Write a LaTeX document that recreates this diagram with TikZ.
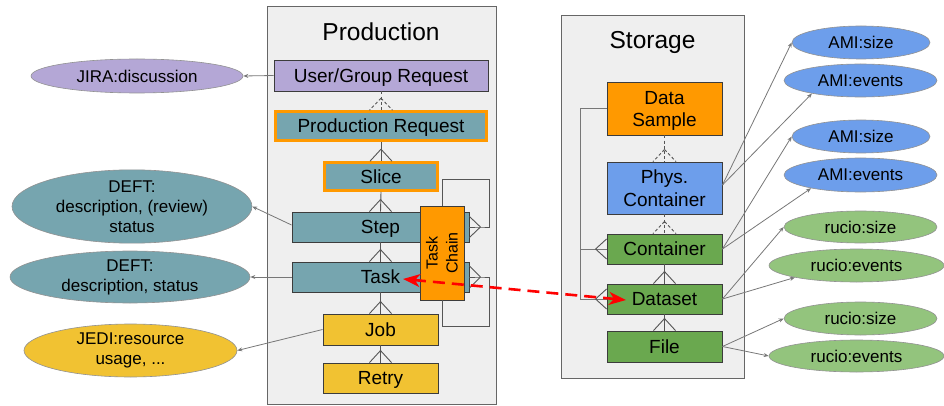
\documentclass[tikz,border=0pt]{standalone}
\usepackage{fontspec}
\setmainfont{Liberation Sans}
\usetikzlibrary{arrows.meta,calc,shapes.geometric}

\definecolor{panelfill}{HTML}{EFEFEF}
\definecolor{panelline}{HTML}{666666}
\definecolor{boxline}{HTML}{3C3C3C}
\definecolor{lilac}{HTML}{B4A7D6}
\definecolor{teal}{HTML}{76A5AF}
\definecolor{amber}{HTML}{FF9900}
\definecolor{gold}{HTML}{F1C232}
\definecolor{sky}{HTML}{6D9EEB}
\definecolor{leaf}{HTML}{6AA84F}
\definecolor{mint}{HTML}{93C47D}
\definecolor{wire}{HTML}{555555}
\definecolor{pointer}{HTML}{777777}
\definecolor{hot}{HTML}{FF0000}

% crow's foot: #2 = anchor on the box, #3 = apex offset, #4 = half spread
\newcommand{\crowfoot}[4][]{%
  \draw[link,#1] ($#2+#3$) -- ($#2+#4$) ($#2+#3$) -- ($#2-#4$);}

\begin{document}
\begin{tikzpicture}[x=1pt,y=-1pt,
  panel/.style={draw=panelline,fill=panelfill,line width=1pt,inner sep=0pt},
  title/.style={font=\fontsize{24.5}{28}\selectfont,anchor=base},
  entity/.style={draw=boxline,line width=0.9pt,inner sep=0pt,align=center,
    font=\fontsize{19}{22.5}\selectfont,text height=13.6pt,text depth=0pt},
  twolines/.style={text height=36.1pt},
  marked/.style={draw=amber,line width=2.6pt},
  attr/.style={ellipse,draw=pointer!80,line width=0.6pt,inner sep=0pt,align=center,
    font=\fontsize{17}{20}\selectfont},
  link/.style={draw=wire,line width=0.9pt},
  weak/.style={dash pattern=on 3pt off 2.2pt},
  refer/.style={draw=pointer,line width=0.8pt,-{Stealth[length=5pt,width=4pt]}},
  chainlink/.style={draw=hot,line width=2.6pt,dash pattern=on 12pt off 7pt,
    {Stealth[length=17pt,width=13pt,inset=5pt]}-{Stealth[length=17pt,width=13pt,inset=5pt]}}
]
\useasboundingbox (0,0) rectangle (944,406);

% ---------- panels ----------
\node[panel,minimum width=229pt,minimum height=397pt] (prodpanel) at (381.5,205.5) {};
\node[title] (prodtitle) at (381,41) {Production};
\node[panel,minimum width=183pt,minimum height=362pt] (storpanel) at (652.5,197) {};
\node[title] (stortitle) at (652.5,49) {Storage};

% ---------- production entities ----------
\node[entity,fill=lilac,minimum width=214pt,minimum height=31pt] (ugr) at (381,75.5) {User/Group Request};
\node[entity,marked,fill=teal,minimum width=211pt,minimum height=29pt] (preq) at (381,126) {Production Request};
\node[entity,marked,fill=teal,minimum width=113pt,minimum height=28pt] (slice) at (381,176.5) {Slice};
\node[entity,fill=teal,minimum width=177pt,minimum height=30pt] (step) at (380.5,227) {Step};
\node[entity,fill=teal,minimum width=177pt,minimum height=30pt] (task) at (380.5,277) {Task};
\node[entity,fill=gold,minimum width=115pt,minimum height=31pt] (job) at (380.5,329.5) {Job};
\node[entity,fill=gold,minimum width=115pt,minimum height=30pt] (retry) at (380.5,378) {Retry};

% hierarchy inside production
\draw[link,weak] (ugr.south) -- (preq.north);
\crowfoot[weak]{(preq.north)}{(0,-12)}{(11.5,0)}
\draw[link] (preq.south) -- (slice.north);
\crowfoot{(slice.north)}{(0,-12)}{(11,0)}
\draw[link] (slice.south) -- (step.north);
\crowfoot{(step.north)}{(0,-12)}{(11,0)}
\draw[link] (step.south) -- (task.north);
\crowfoot{(task.north)}{(0,-12)}{(11,0)}
\draw[link] (task.south) -- (job.north);
\crowfoot{(job.north)}{(0,-12)}{(11,0)}
\draw[link] (job.south) -- (retry.north);
\crowfoot{(retry.north)}{(0,-12)}{(11,0)}

% task chain with its loops to steps and tasks
\node[entity,fill=amber,minimum width=44pt,minimum height=94pt] (chain) at (442,253) {};
\node[rotate=90,align=center,font=\fontsize{16}{20}\selectfont] (chainlabel) at (chain.center) {Task\\Chain};
\coordinate (stepfoot) at ($(step.east)+(11,0)$);
\coordinate (taskfoot) at ($(task.east)+(11,0)$);
\draw[link,line width=0.8pt] (chain.north) |- ($(chain.north)+(47,-26)$) |- (stepfoot) -- (step.east |- stepfoot);
\draw[link,line width=0.8pt] (chain.south) |- ($(chain.south)+(47,26)$) |- (taskfoot) -- (task.east |- taskfoot);
\crowfoot{(step.east)}{(11,0)}{(0,10.5)}
\crowfoot{(task.east)}{(11,0)}{(0,11)}

% ---------- storage entities ----------
\node[entity,twolines,fill=amber,minimum width=115pt,minimum height=53pt] (dsample) at (664.5,108.5) {Data\\Sample};
\node[entity,twolines,fill=sky,minimum width=115pt,minimum height=52pt] (phys) at (664.5,188) {Phys.\\Container};
\node[entity,fill=leaf,minimum width=115pt,minimum height=30pt] (cont) at (664.5,249) {Container};
\node[entity,fill=leaf,minimum width=115pt,minimum height=30pt] (dset) at (664.5,299) {Dataset};
\node[entity,fill=leaf,minimum width=115pt,minimum height=31pt] (file) at (664.5,346.5) {File};

\draw[link,weak] (dsample.south) -- (phys.north);
\crowfoot[weak]{(phys.north)}{(0,-12)}{(11.5,0)}
\draw[link,weak] (phys.south) -- (cont.north);
\crowfoot[weak]{(cont.north)}{(0,-12)}{(11.5,0)}
\draw[link] (cont.south) -- (dset.north);
\crowfoot{(dset.north)}{(0,-12)}{(11,0)}
\draw[link] (dset.south) -- (file.north);
\crowfoot{(file.north)}{(0,-12)}{(11,0)}

% data sample to containers and datasets
\coordinate (spine) at ($(dsample.west)+(-26,0)$);
\draw[link,draw=pointer] (dsample.west) -- (spine) |- (dset.west);
\draw[link,draw=pointer] (spine |- cont.west) -- (cont.west);
\crowfoot{(cont.west)}{(-11,0)}{(0,10)}
\crowfoot{(dset.west)}{(-11,0)}{(0,10)}

% ---------- task chain to dataset ----------
\coordinate (chainend) at (403,279);
\coordinate (dsetend) at (626,300);
\draw[chainlink] (chainend) -- (dsetend);

% ---------- attribute sources, left ----------
\node[attr,fill=lilac,minimum width=212pt,minimum height=34pt] (jira) at (137,76) {JIRA:discussion};
\node[attr,fill=teal,minimum width=240pt,minimum height=63pt] (deftstep) at (132,206.5) {DEFT:\\description, (review)\\status};
\node[attr,fill=teal,minimum width=240pt,minimum height=52pt] (defttask) at (130,277) {DEFT:\\description, status};
\node[attr,fill=gold,minimum width=213pt,minimum height=53pt] (jedi) at (130.5,350.5) {JEDI:resource\\usage, ...};

\draw[refer] (ugr.west) -- (jira.east);
\draw[refer] ($(step.west)+(0,-2)$) -- (deftstep.east);
\draw[refer] (task.west) -- (defttask.east);
\draw[refer] (job.west) -- (jedi.east);

% ---------- attribute sources, right ----------
\node[attr,fill=sky,minimum width=138pt,minimum height=33pt] (amisize) at (861,42.5) {AMI:size};
\node[attr,fill=sky,minimum width=153pt,minimum height=33pt] (amievents) at (860.5,80.5) {AMI:events};
\node[attr,fill=sky,minimum width=138pt,minimum height=33pt] (amisizeb) at (861,136.5) {AMI:size};
\node[attr,fill=sky,minimum width=153pt,minimum height=34pt] (amieventsb) at (860.5,175) {AMI:events};
\node[attr,fill=mint,minimum width=153pt,minimum height=32pt] (rsize) at (860.5,227) {rucio:size};
\node[attr,fill=mint,minimum width=175pt,minimum height=33pt] (revents) at (856.5,265.5) {rucio:events};
\node[attr,fill=mint,minimum width=153pt,minimum height=33pt] (rsizeb) at (860.5,318.5) {rucio:size};
\node[attr,fill=mint,minimum width=175pt,minimum height=32pt] (reventsb) at (856.5,356) {rucio:events};

\coordinate (physout) at ($(phys.east)+(0,-3)$);
\draw[refer] (physout) -- (amisize.west);
\draw[refer] (physout) -- (amievents.195);
\draw[refer] (cont.east) -- (amisizeb.west);
\draw[refer] (cont.east) -- (amieventsb.195);
\draw[refer] (dset.east) -- (rsize.west);
\draw[refer] (dset.east) -- (revents.191);
\draw[refer] (file.east) -- (rsizeb.west);
\draw[refer] (file.east) -- (reventsb.west);
\end{tikzpicture}
\end{document}
